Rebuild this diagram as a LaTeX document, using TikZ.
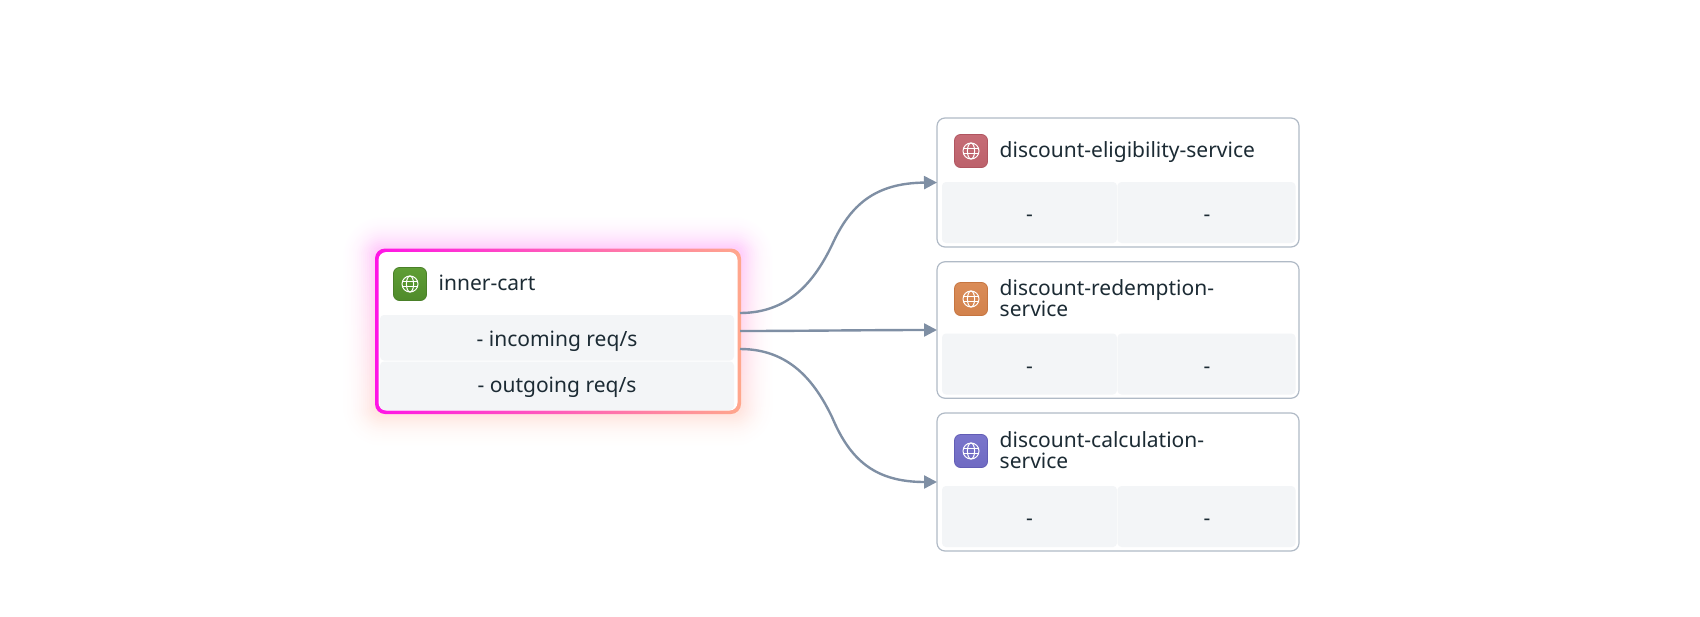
\documentclass[tikz,border=0pt]{standalone}
\usepackage{fontspec}
\setmainfont{Noto Sans}
\usetikzlibrary{arrows.meta}
\definecolor{ink}{HTML}{1C2B34}
\definecolor{edgec}{HTML}{7F8FA4}
\definecolor{cardline}{HTML}{B0BAC6}
\definecolor{rowfill}{HTML}{F3F5F7}
\definecolor{hotA}{HTML}{FF14E6}
\definecolor{hotB}{HTML}{FFA78C}
\definecolor{glowT}{HTML}{FF3CF0}
\definecolor{glowB}{HTML}{FF9C80}
\definecolor{greenT}{HTML}{5F9E35}
\definecolor{greenB}{HTML}{4F8B2B}
\definecolor{greenL}{HTML}{4A8029}
\definecolor{redT}{HTML}{C66C76}
\definecolor{redB}{HTML}{BC616B}
\definecolor{redL}{HTML}{B05560}
\definecolor{orT}{HTML}{DA8C58}
\definecolor{orB}{HTML}{D2824C}
\definecolor{orL}{HTML}{C67540}
\definecolor{viT}{HTML}{7A75CC}
\definecolor{viB}{HTML}{6F6AC2}
\definecolor{viL}{HTML}{625DB5}
\tikzset{
  card/.style={draw=cardline,line width=1.2pt,fill=white,rounded corners=8pt,minimum width=362pt,inner sep=0pt,outer sep=0pt},
  rowcell/.style={fill=rowfill,inner sep=0pt,outer sep=0pt,text=ink,font=\fontsize{21}{24}\selectfont,align=center},
  title/.style={anchor=west,inner sep=0pt,text=ink,align=left,font=\fontsize{21}{21}\selectfont},
  iconbox/.style={rounded corners=6pt,minimum width=33pt,minimum height=33pt,inner sep=0pt,outer sep=0pt,line width=.8pt},
  link/.style={draw=edgec,line width=2.4pt,-{Triangle[length=13pt,width=13pt,fill=edgec]}},
  globe/.style={draw=white,line width=1pt,fill=none},
}
\newcommand{\globeat}[1]{%
  \draw[globe] (#1.center) circle (8pt);
  \draw[globe] (#1.center) ellipse (3.6pt and 8pt);
  \draw[globe] ([yshift=-2.8pt,xshift=-7.4pt]#1.center) -- ([yshift=-2.8pt,xshift=7.4pt]#1.center);
  \draw[globe] ([yshift=2.8pt,xshift=-7.4pt]#1.center) -- ([yshift=2.8pt,xshift=7.4pt]#1.center);
}
\begin{document}
\begin{tikzpicture}[x=1pt,y=-1pt]
\useasboundingbox (0,0) rectangle (1700,616);
% glow of the selected card
\foreach \g/\k in {32/0.5,30/1,28/1.5,26/2,24/3,22/4,20/5,18/6.5,16/8,14/10,12/12,10/14,8/16.5,6/19,4/21.5,2/24}{
  \shade[rounded corners=\g pt+8pt,top color=glowT!\k!white,bottom color=glowB!\k!white]
    (375-\g,248.5-\g) rectangle (741+\g,414+\g);
}
% selected card: gradient border, white inside
\shade[rounded corners=10pt,left color=hotA,right color=hotB] (375,248.5) rectangle (741,414);
\node[fill=white,rounded corners=8pt,minimum width=359pt,minimum height=158.5pt,inner sep=0pt,outer sep=0pt] (innerbody) at (558,331.25) {};
\coordinate (inner) at (740,331);
\coordinate (outA) at (740,313);
\coordinate (outC) at (740,349);
\node[rowcell,minimum width=354pt,minimum height=45.5pt,rounded corners=4pt] (rowin) at (557,337.75) {};
\node[rowcell,minimum width=354pt,minimum height=48.5pt,rounded corners=4pt] (rowout) at (557,385.75) {};
\node[rowcell,fill=none] (rowinT) at (557,341) {- incoming req/s};
\node[rowcell,fill=none] (rowoutT) at (557,387.5) {- outgoing req/s};
\node[iconbox,top color=greenT,bottom color=greenB,draw=greenL] (iconI) at (410,284) {};
\globeat{iconI}
\node[title] (titleI) at (438.5,283) {inner-cart};

% eligibility
\node[card,minimum height=129pt] (elig) at (1118,182.5) {};
\node[rowcell,minimum width=175pt,minimum height=61pt,rounded corners=4pt] (eligL) at (1029.5,212.5) {};
\node[rowcell,minimum width=178pt,minimum height=61pt,rounded corners=4pt] (eligR) at (1206.5,212.5) {};
\node[rowcell,fill=none] (eligLT) at (1029.5,218) {-};
\node[rowcell,fill=none] (eligRT) at (1207,218) {-};
\node[iconbox,top color=redT,bottom color=redB,draw=redL] (iconE) at (971,151) {};
\globeat{iconE}
\node[title] (titleE) at (999.5,152.5) {discount-eligibility-service};

% redemption
\node[card,minimum height=136.5pt] (redeem) at (1118,330) {};
\node[rowcell,minimum width=175pt,minimum height=61pt,rounded corners=4pt] (redeemL) at (1029.5,364) {};
\node[rowcell,minimum width=178pt,minimum height=61pt,rounded corners=4pt] (redeemR) at (1206.5,364) {};
\node[rowcell,fill=none] (redeemLT) at (1029.5,370) {-};
\node[rowcell,fill=none] (redeemRT) at (1207,370) {-};
\node[iconbox,top color=orT,bottom color=orB,draw=orL] (iconR) at (971,299) {};
\globeat{iconR}
\node[title] (titleR) at (999.5,298.5) {discount-redemption-\\service};

% calculation
\node[card,minimum height=138pt] (calc) at (1118,482) {};
\node[rowcell,minimum width=175pt,minimum height=61pt,rounded corners=4pt] (calcL) at (1029.5,516.5) {};
\node[rowcell,minimum width=178pt,minimum height=61pt,rounded corners=4pt] (calcR) at (1206.5,516.5) {};
\node[rowcell,fill=none] (calcLT) at (1029.5,522) {-};
\node[rowcell,fill=none] (calcRT) at (1207,522) {-};
\node[iconbox,top color=viT,bottom color=viB,draw=viL] (iconC) at (971,451) {};
\globeat{iconC}
\node[title] (titleC) at (999.5,450.5) {discount-calculation-\\service};

% connectors
\draw[link] (outA) .. controls (790,313) and (815,280) .. (832,245) .. controls (850,205) and (875,183) .. (elig.west);
\draw[link] (inner) .. controls (800,331) and (870,330) .. (redeem.west);
\draw[link] (outC) .. controls (790,349) and (815,382) .. (832,417) .. controls (850,460) and (875,482) .. (calc.west);
\end{tikzpicture}
\end{document}
